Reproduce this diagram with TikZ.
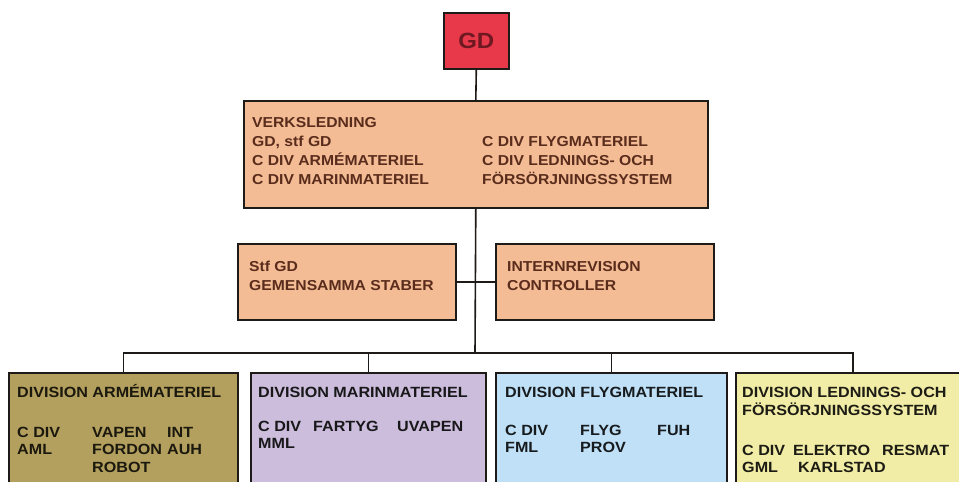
\documentclass[tikz,border=0pt]{standalone}
\usepackage{fontspec}
\setmainfont{Liberation Sans}[FakeStretch=1.09]
\usepackage{tikz}

\definecolor{gdred}{HTML}{E8394B}
\definecolor{gdtext}{HTML}{6E1822}
\definecolor{salmon}{HTML}{F3BC95}
\definecolor{browntext}{HTML}{5A2C1C}
\definecolor{olive}{HTML}{B4A05E}
\definecolor{lavender}{HTML}{CBBDDB}
\definecolor{skyblue}{HTML}{BFE0F6}
\definecolor{paleyellow}{HTML}{F1ECA6}
\definecolor{boxline}{HTML}{1E1A18}

\begin{document}
\begin{tikzpicture}[x=1pt,y=-1pt]
\tikzstyle{box}=[draw=boxline,line width=1.6pt,inner sep=0pt,anchor=north west]
% multi-line labels sit on the baseline of their last line
\tikzstyle{lbl}=[anchor=base west,inner sep=0pt,align=left,font=\bfseries\fontsize{14.4}{19.3}\selectfont]
\tikzstyle{dlbl}=[lbl,font=\bfseries\fontsize{14.8}{17.5}\selectfont]
\useasboundingbox (0,0) rectangle (959,482);
\clip (0,0) rectangle (959,482);
% boxes
\node[box,fill=gdred,minimum width=65pt,minimum height=56pt] (gd) at (443,12)
  {\color{gdtext}\bfseries\fontsize{22}{26}\selectfont GD};
\node[box,fill=salmon,minimum width=464pt,minimum height=107pt] (verk) at (243,100) {};
\node[box,fill=salmon,minimum width=218pt,minimum height=76pt] (stf) at (237,243) {};
\node[box,fill=salmon,minimum width=218pt,minimum height=76pt] (intern) at (495,243) {};
\node[box,fill=olive,minimum width=229pt,minimum height=130pt] (arme) at (8,372) {};
\node[box,fill=lavender,minimum width=235pt,minimum height=130pt] (marin) at (250,372) {};
\node[box,fill=skyblue,minimum width=231pt,minimum height=130pt] (flyg) at (495,372) {};
\node[box,fill=paleyellow,minimum width=234pt,minimum height=130pt] (led) at (735,372) {};
% texts
\begin{scope}[text=browntext]
\node[lbl] (verk-l) at (252,184.9) {VERKSLEDNING\\GD, stf GD\\C DIV ARMÉMATERIEL\\C DIV MARINMATERIEL};
\node[lbl] (verk-r) at (482,184.9) {C DIV FLYGMATERIEL\\C DIV LEDNINGS- OCH\\FÖRSÖRJNINGSSYSTEM};
\node[lbl] (stf-t) at (249,290.3) {Stf GD\\GEMENSAMMA STABER};
\node[lbl] (intern-t) at (507,290.3) {INTERNREVISION\\CONTROLLER};
\end{scope}
\begin{scope}[text=black!85!olive]
\node[dlbl] (arme-h) at (17,397) {DIVISION ARMÉMATERIEL};
\node[dlbl] (arme-a) at (17,454.5) {C DIV\\AML};
\node[dlbl] (arme-b) at (92,472) {VAPEN\\FORDON\\ROBOT};
\node[dlbl] (arme-c) at (167,454.5) {INT\\AUH};
\end{scope}
\begin{scope}[text=black!88!lavender]
\node[dlbl] (marin-h) at (258,397) {DIVISION MARINMATERIEL};
\node[dlbl] (marin-a) at (258,448.5) {C DIV\\MML};
\node[dlbl] (marin-b) at (313,431) {FARTYG};
\node[dlbl] (marin-c) at (397,431) {UVAPEN};
\end{scope}
\begin{scope}[text=black!88!skyblue]
\node[dlbl] (flyg-h) at (505,397) {DIVISION FLYGMATERIEL};
\node[dlbl] (flyg-a) at (505,452.5) {C DIV\\FML};
\node[dlbl] (flyg-b) at (580,452.5) {FLYG\\PROV};
\node[dlbl] (flyg-c) at (657,435) {FUH};
\end{scope}
\begin{scope}[text=black!88!paleyellow]
\node[dlbl] (led-h) at (742,415) {DIVISION LEDNINGS- OCH\\FÖRSÖRJNINGSSYSTEM};
\node[dlbl] (led-a) at (742,472.5) {C DIV\\GML};
\node[dlbl] (led-b) at (793,455) {ELEKTRO};
\node[dlbl] (led-d) at (798,472.5) {KARLSTAD};
\node[dlbl] (led-c) at (882,455) {RESMAT};
\end{scope}
% connectors
\coordinate (bus) at (475,353);
\draw[boxline,line width=1.6pt] (gd.south) -- (verk.north);
\draw[boxline,line width=1.6pt] (verk.south) -- (bus);
\draw[boxline,line width=1.6pt] (stf.east) -- (intern.west);
\draw[boxline,line width=1.6pt] (arme.north) |- (bus) -| (led.north);
\draw[boxline,line width=1.2pt] (marin.north) -- (marin.north |- bus);
\draw[boxline,line width=1.6pt] (flyg.north) -- (flyg.north |- bus);
\end{tikzpicture}
\end{document}
